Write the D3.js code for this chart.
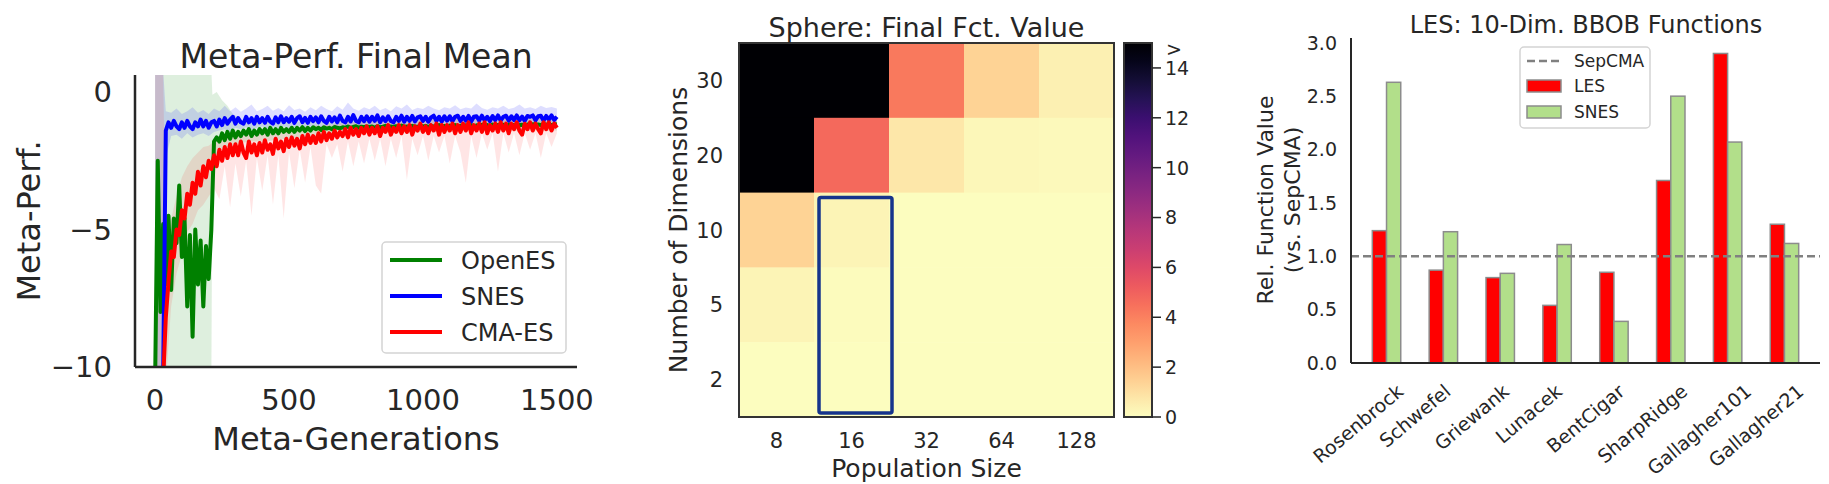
<!DOCTYPE html>
<html>
<head>
<meta charset="utf-8">
<script src="https://cdn.jsdelivr.net/npm/d3@7"></script>
<style>
  body { margin: 0; background: #fff; }
  text { font-family: "DejaVu Sans", sans-serif; fill: #262626; }
</style>
</head>
<body>
<svg id="fig" width="1829" height="484"></svg>
<script>
// ---------------- data: meta-performance curves (one value every 10 meta-generations) ----------------
var genStep = 10;
var openesMean = [
  -10.6, -2.5, -8.0, -4.8, -7.0, -4.5, -7.2, -4.6, -5.5, -3.4,
  -6.0, -4.6, -7.8, -5.2, -8.9, -5.0, -7.0, -5.4, -7.8, -5.6,
  -6.8, -5.0, -1.8, -1.65, -1.8, -1.5, -1.75, -1.45, -1.7, -1.4,
  -1.65, -1.45, -1.6, -1.4, -1.55, -1.35, -1.6, -1.4, -1.55, -1.35,
  -1.5, -1.35, -1.55, -1.3, -1.5, -1.35, -1.5, -1.3, -1.45, -1.35,
  -1.45, -1.3, -1.45, -1.3, -1.4, -1.28, -1.42, -1.3, -1.4, -1.28,
  -1.35, -1.3, -1.38, -1.28, -1.33, -1.3, -1.35, -1.27, -1.3, -1.32,
  -1.28, -1.3, -1.25, -1.3, -1.27, -1.24, -1.3, -1.26, -1.28, -1.25,
  -1.27, -1.25, -1.3, -1.24, -1.28, -1.26, -1.23, -1.28, -1.25, -1.27,
  -1.24, -1.27, -1.22, -1.26, -1.25, -1.28, -1.23, -1.25, -1.27, -1.22,
  -1.25, -1.23, -1.27, -1.22, -1.26, -1.24, -1.2, -1.25, -1.23, -1.26,
  -1.22, -1.25, -1.2, -1.24, -1.22, -1.26, -1.21, -1.23, -1.2, -1.24,
  -1.21, -1.23, -1.19, -1.22, -1.2, -1.24, -1.18, -1.22, -1.2, -1.21,
  -1.19, -1.22, -1.18, -1.21, -1.2, -1.17, -1.21, -1.19, -1.22, -1.18,
  -1.2, -1.17, -1.21, -1.18, -1.2, -1.16, -1.19, -1.18, -1.2, -1.17,
  -1.18
];
var snesMean = [
  -10.6, -10.6, -10.6, -10.4, -1.4, -1.1, -1.3, -1.05, -1.25, -1.35,
  -1.1, -1.3, -1.05, -1.25, -1.35, -1.1, -1.25, -1.0, -1.25, -1.05,
  -1.3, -1.1, -1.05, -1.25, -1.0, -1.2, -0.95, -1.15, -1.0, -0.9,
  -1.15, -0.95, -1.1, -1.15, -0.9, -1.1, -0.95, -1.15, -0.9, -1.1,
  -0.95, -1.12, -0.9, -1.08, -1.15, -0.92, -1.1, -0.88, -1.1, -0.95,
  -1.08, -0.9, -1.12, -0.95, -0.88, -1.1, -0.94, -1.12, -0.9, -1.06,
  -0.92, -1.1, -0.88, -1.05, -1.12, -0.9, -1.07, -0.92, -1.1, -0.86,
  -1.05, -1.1, -0.9, -1.07, -0.84, -1.05, -1.1, -0.9, -1.06, -0.88,
  -1.08, -0.9, -1.05, -0.85, -1.1, -0.92, -1.06, -0.88, -1.05, -1.1,
  -0.9, -1.05, -0.86, -1.08, -0.9, -1.05, -0.87, -1.07, -0.92, -0.88,
  -1.05, -0.9, -1.08, -0.92, -0.86, -1.05, -0.9, -1.07, -0.88, -1.04,
  -0.88, -1.06, -0.9, -0.86, -1.05, -0.9, -1.04, -0.87, -1.07, -0.9,
  -0.88, -1.04, -0.86, -1.03, -0.9, -1.06, -0.87, -1.02, -0.85, -1.04,
  -0.9, -0.86, -1.04, -0.88, -1.02, -0.85, -1.03, -0.89, -1.05, -0.87,
  -0.9, -0.85, -1.03, -0.88, -0.86, -1.04, -0.87, -1.0, -0.85, -1.02,
  -0.9
];
var cmaesMean = [
  -10.6, -10.6, -10.6, -10.5, -8.2, -6.9, -5.8, -6.0, -5.0, -5.2,
  -4.3, -4.6, -3.7, -4.1, -3.3, -3.7, -2.9, -3.4, -2.7, -3.1,
  -2.5, -2.8, -2.3, -2.7, -2.1, -2.5, -2.0, -2.4, -1.9, -2.3,
  -1.9, -2.3, -1.8, -2.2, -2.4, -1.8, -2.2, -1.9, -2.3, -1.85,
  -2.2, -1.75, -2.1, -1.9, -2.25, -1.7, -2.05, -1.8, -2.15, -1.7,
  -2.0, -1.65, -1.95, -1.7, -2.05, -1.6, -1.9, -1.55, -1.85, -1.6,
  -1.85, -1.5, -1.8, -1.45, -1.75, -1.5, -1.7, -1.4, -1.65, -1.45,
  -1.6, -1.35, -1.65, -1.3, -1.55, -1.35, -1.6, -1.3, -1.5, -1.25,
  -1.55, -1.3, -1.5, -1.25, -1.6, -1.3, -1.45, -1.2, -1.55, -1.3,
  -1.45, -1.2, -1.5, -1.25, -1.45, -1.2, -1.55, -1.25, -1.4, -1.15,
  -1.45, -1.25, -1.5, -1.2, -1.4, -1.15, -1.55, -1.2, -1.45, -1.2,
  -1.4, -1.15, -1.5, -1.2, -1.45, -1.15, -1.4, -1.1, -1.5, -1.2,
  -1.4, -1.15, -1.45, -1.1, -1.5, -1.2, -1.4, -1.15, -1.45, -1.1,
  -1.4, -1.15, -1.5, -1.15, -1.35, -1.1, -1.4, -1.55, -1.15, -1.35,
  -1.1, -1.4, -1.15, -1.35, -1.5, -1.1, -1.35, -1.1, -1.4, -1.15,
  -1.3
];

// shaded spread around the curves
var greenBandGens = [0, 210, 214, 230, 250, 270, 290, 320, 360, 400, 500, 600, 700, 800, 900, 1000, 1100, 1200, 1300, 1400, 1500];
var openesLo = [-10.6, -10.6, -2.6, -2.3, -2.1, -2.0, -1.9, -1.85, -1.8, -1.8, -1.7, -1.6, -1.55, -1.5, -1.5, -1.45, -1.45, -1.4, -1.4, -1.4, -1.4];
var openesHi = [0.8, 0.8, -0.1, 0.0, -0.3, -0.5, -0.8, -1.0, -1.1, -1.1, -1.1, -1.05, -1.0, -1.0, -1.0, -0.95, -0.95, -0.95, -0.9, -0.9, -0.9];

var bandGens = [0, 20, 30].concat(d3.range(40, 1501, 20));
var snesLo = [
  -10.6, -10.6, -10.6, -2.4,
  -1.6, -1.55, -1.7, -1.5, -1.65, -1.55, -1.5, -1.6, -1.45, -1.4,
  -1.35, -1.45, -1.3, -1.35, -1.28, -1.38, -1.3, -1.25, -1.33, -1.28,
  -1.3, -1.25, -1.32, -1.27, -1.24, -1.3, -1.26, -1.22, -1.28, -1.25,
  -1.22, -1.27, -1.2, -1.25, -1.22, -1.18, -1.24, -1.2, -1.23, -1.19,
  -1.2, -1.17, -1.22, -1.18, -1.2, -1.16, -1.21, -1.18, -1.15, -1.2,
  -1.17, -1.14, -1.19, -1.16, -1.13, -1.18, -1.15, -1.12, -1.17, -1.14,
  -1.13, -1.16, -1.12, -1.15, -1.11, -1.14, -1.12, -1.1, -1.13, -1.11,
  -1.12, -1.1, -1.11
];
var snesHi = [
  0.8, 0.8, 0.8, -0.7,
  -0.75, -0.6, -0.8, -0.7, -0.55, -0.75, -0.65, -0.8, -0.6, -0.7,
  -0.5, -0.7, -0.55, -0.72, -0.6, -0.45, -0.7, -0.62, -0.5, -0.68,
  -0.58, -0.7, -0.48, -0.65, -0.6, -0.72, -0.55, -0.66, -0.5, -0.62,
  -0.7, -0.52, -0.64, -0.38, -0.6, -0.68, -0.55, -0.63, -0.5, -0.66,
  -0.58, -0.7, -0.52, -0.6, -0.45, -0.65, -0.57, -0.62, -0.5, -0.6,
  -0.66, -0.55, -0.6, -0.48, -0.63, -0.56, -0.6, -0.42, -0.58, -0.64,
  -0.55, -0.6, -0.5, -0.62, -0.57, -0.45, -0.6, -0.55, -0.62, -0.5,
  -0.58, -0.54, -0.6
];
var cmaesLo = [
  -10.6, -10.6, -10.6, -10.6,
  -7.8, -6.6, -5.9, -5.1, -4.8, -4.3, -4.1, -3.8, -3.5, -3.9,
  -2.7, -4.2, -2.6, -3.8, -2.5, -4.5, -2.4, -3.6, -2.3, -4.1,
  -2.3, -4.6, -2.2, -3.5, -2.1, -3.3, -2.0, -3.4, -3.7, -1.9,
  -2.4, -1.9, -2.9, -1.8, -2.7, -1.8, -2.6, -1.7, -2.5, -1.7,
  -2.7, -1.7, -2.4, -1.6, -3.2, -1.7, -2.3, -1.6, -2.5, -1.6,
  -2.2, -1.6, -2.6, -1.6, -2.2, -3.3, -1.6, -2.4, -1.5, -2.1,
  -1.5, -2.9, -1.5, -2.2, -1.5, -2.3, -1.5, -2.1, -1.5, -2.4,
  -1.5, -2.0, -1.5
];
var cmaesHi = [
  0.8, 0.8, 0.8, -5.5,
  -4.6, -3.8, -3.1, -2.7, -2.4, -2.2, -2.0, -1.95, -1.8, -1.75,
  -1.7, -1.6, -1.65, -1.55, -1.6, -1.5, -1.55, -1.45, -1.5, -1.4,
  -1.45, -1.35, -1.4, -1.3, -1.35, -1.25, -1.3, -1.2, -1.25, -1.15,
  -1.2, -1.1, -1.15, -1.05, -1.1, -1.0, -1.05, -1.0, -1.02, -0.98,
  -1.0, -0.97, -1.0, -0.95, -0.98, -0.96, -1.0, -0.95, -0.97, -0.94,
  -0.96, -0.93, -0.97, -0.95, -0.92, -0.96, -0.94, -0.91, -0.95, -0.93,
  -0.92, -0.95, -0.9, -0.94, -0.92, -0.9, -0.93, -0.91, -0.89, -0.92,
  -0.9, -0.92, -0.88
];
var genTicks = [0, 500, 1000, 1500];
var perfTicks = [0, -5, -10];

// ---------------- data: sphere heatmap ----------------
var popSizes = ["8", "16", "32", "64", "128"];
var numDims = ["30", "20", "10", "5", "2"];
var sphereFinal = [
  [25.0, 25.0, 4.2, 1.4, 0.45],
  [25.0, 4.7, 0.75, 0.2, 0.12],
  [1.4, 0.35, 0.05, 0.04, 0.03],
  [0.3, 0.08, 0.03, 0.02, 0.02],
  [0.05, 0.03, 0.02, 0.01, 0.01]
];
var cbarTicks = [0, 2, 4, 6, 8, 10, 12, 14];

// ---------------- data: BBOB bars ----------------
var bbobFns = ["Rosenbrock", "Schwefel", "Griewank", "Lunacek", "BentCigar", "SharpRidge", "Gallagher101", "Gallagher21"];
var lesRel = [1.24, 0.87, 0.80, 0.54, 0.85, 1.71, 2.90, 1.30];
var snesRel = [2.63, 1.23, 0.84, 1.11, 0.39, 2.50, 2.07, 1.12];
var sepcmaRel = 1.0;
var relTicks = [0.0, 0.5, 1.0, 1.5, 2.0, 2.5, 3.0];

var svg = d3.select("#fig");
var ink = "#262626";

// =============== panel 1: meta-performance ===============
var xGen = d3.scaleLinear().domain([-75, 1575]).range([135, 577]);
var yPerf = d3.scaleLinear().domain([-10, 0.62]).range([367, 75]);

svg.append("clipPath").attr("id", "clip1").append("rect")
    .attr("x", 135).attr("y", 75).attr("width", 442).attr("height", 292);
var p1 = svg.append("g").attr("clip-path", "url(#clip1)");

var bands = [
    { gens: greenBandGens, lo: openesLo, hi: openesHi, color: "#008000", op: 0.13 },
    { gens: bandGens, lo: snesLo, hi: snesHi, color: "#0000ff", op: 0.13 },
    { gens: bandGens, lo: cmaesLo, hi: cmaesHi, color: "#ff0000", op: 0.1 }
];
bands.forEach(function(b) {
    var area = d3.area()
        .x(function(d, i) { return xGen(b.gens[i]); })
        .y0(function(d, i) { return yPerf(b.lo[i]); })
        .y1(function(d, i) { return yPerf(b.hi[i]); });
    p1.append("path").datum(b.lo)
        .attr("d", area)
        .attr("fill", b.color)
        .attr("fill-opacity", b.op);
});

var series = [
    { name: "OpenES", values: openesMean, color: "#008000" },
    { name: "SNES", values: snesMean, color: "#0000ff" },
    { name: "CMA-ES", values: cmaesMean, color: "#ff0000" }
];
var perfLine = d3.line()
    .x(function(d, i) { return xGen(i * genStep); })
    .y(function(d) { return yPerf(d); });
series.forEach(function(s) {
    p1.append("path").datum(s.values)
        .attr("d", perfLine)
        .attr("fill", "none")
        .attr("stroke", s.color)
        .attr("stroke-width", 4)
        .attr("stroke-linejoin", "round");
});

// spines
svg.append("line").attr("x1", 135).attr("x2", 135).attr("y1", 75).attr("y2", 367)
    .attr("stroke", ink).attr("stroke-width", 2.5);
svg.append("line").attr("x1", 135).attr("x2", 577).attr("y1", 367).attr("y2", 367)
    .attr("stroke", ink).attr("stroke-width", 2.5);

svg.selectAll(".gtick").data(genTicks).enter().append("text")
    .attr("x", function(d) { return xGen(d); })
    .attr("y", 410)
    .attr("text-anchor", "middle")
    .style("font-size", "29px")
    .text(function(d) { return d; });
svg.selectAll(".ptick").data(perfTicks).enter().append("text")
    .attr("x", 112)
    .attr("y", function(d) { return yPerf(d); })
    .attr("dy", "0.36em")
    .attr("text-anchor", "end")
    .style("font-size", "29px")
    .text(function(d) { return d < 0 ? "\u2212" + Math.abs(d) : d; });

svg.append("text").attr("x", 356).attr("y", 68).attr("text-anchor", "middle")
    .style("font-size", "33px").text("Meta-Perf. Final Mean");
svg.append("text").attr("x", 356).attr("y", 450).attr("text-anchor", "middle")
    .style("font-size", "32px").text("Meta-Generations");
svg.append("text").attr("transform", "translate(28,221) rotate(-90)")
    .attr("dy", "0.36em").attr("text-anchor", "middle")
    .style("font-size", "32px").text("Meta-Perf.");

// legend
var leg1 = svg.append("g");
leg1.append("rect").attr("x", 382).attr("y", 242).attr("width", 184).attr("height", 111)
    .attr("rx", 4).attr("fill", "#fff").attr("fill-opacity", 0.85)
    .attr("stroke", "#d4d4d4").attr("stroke-width", 1.5);
series.forEach(function(s, i) {
    var ly = 260 + i * 36;
    leg1.append("line").attr("x1", 390).attr("x2", 442).attr("y1", ly).attr("y2", ly)
        .attr("stroke", s.color).attr("stroke-width", 4);
    leg1.append("text").attr("x", 461).attr("y", ly).attr("dy", "0.36em")
        .style("font-size", "24px").text(s.name);
});

// =============== panel 2: heatmap ===============
var xPop = d3.scaleBand().domain(popSizes).range([739, 1114]);
var yDim = d3.scaleBand().domain(numDims).range([43, 417]);
var vmax = 15;
function magmaR(v) { return d3.interpolateMagma(1 - Math.min(v, vmax) / vmax); }

var cells = [];
sphereFinal.forEach(function(row, r) {
    row.forEach(function(v, c) { cells.push({ dim: numDims[r], pop: popSizes[c], v: v }); });
});
svg.selectAll(".cell").data(cells).enter().append("rect")
    .attr("x", function(d) { return xPop(d.pop); })
    .attr("y", function(d) { return yDim(d.dim); })
    .attr("width", xPop.bandwidth() + 0.5)
    .attr("height", yDim.bandwidth() + 0.5)
    .attr("fill", function(d) { return magmaR(d.v); });
svg.append("rect").attr("x", 739).attr("y", 43).attr("width", 375).attr("height", 374)
    .attr("fill", "none").attr("stroke", "#333").attr("stroke-width", 2);

// highlighted column (pop 16, dims 2-10)
svg.append("rect")
    .attr("x", xPop("16") + 5)
    .attr("y", yDim("10") + 5)
    .attr("width", xPop.bandwidth() - 2)
    .attr("height", yDim("2") + yDim.bandwidth() - 4 - (yDim("10") + 5))
    .attr("rx", 2)
    .attr("fill", "none").attr("stroke", "#16348c").attr("stroke-width", 3.5);

svg.selectAll(".ptk").data(popSizes).enter().append("text")
    .attr("x", function(d) { return xPop(d) + xPop.bandwidth() / 2; })
    .attr("y", 448)
    .attr("text-anchor", "middle")
    .style("font-size", "21px")
    .text(function(d) { return d; });
svg.selectAll(".dtk").data(numDims).enter().append("text")
    .attr("x", 723)
    .attr("y", function(d) { return yDim(d) + yDim.bandwidth() / 2; })
    .attr("dy", "0.36em")
    .attr("text-anchor", "end")
    .style("font-size", "21px")
    .text(function(d) { return d; });

svg.append("text").attr("x", 926.5).attr("y", 37).attr("text-anchor", "middle")
    .style("font-size", "27px").text("Sphere: Final Fct. Value");
svg.append("text").attr("x", 926.5).attr("y", 477).attr("text-anchor", "middle")
    .style("font-size", "25px").text("Population Size");
svg.append("text").attr("transform", "translate(678,230) rotate(-90)")
    .attr("dy", "0.36em").attr("text-anchor", "middle")
    .style("font-size", "25px").text("Number of Dimensions");

// colorbar
var cbY = d3.scaleLinear().domain([0, vmax]).range([417, 43]);
var grad = svg.append("defs").append("linearGradient").attr("id", "magmaR")
    .attr("x1", 0).attr("y1", 1).attr("x2", 0).attr("y2", 0);
d3.range(0, 21).forEach(function(k) {
    grad.append("stop").attr("offset", (k / 20)).attr("stop-color", magmaR(k / 20 * vmax));
});
svg.append("rect").attr("x", 1124).attr("y", cbY(vmax)).attr("width", 28)
    .attr("height", cbY(0) - cbY(vmax)).attr("fill", "url(#magmaR)")
    .attr("stroke", "#333").attr("stroke-width", 2);
svg.selectAll(".cbt").data(cbarTicks).enter().append("line")
    .attr("x1", 1152).attr("x2", 1161)
    .attr("y1", function(d) { return cbY(d); }).attr("y2", function(d) { return cbY(d); })
    .attr("stroke", ink).attr("stroke-width", 1.5);
svg.selectAll(".cbl").data(cbarTicks).enter().append("text")
    .attr("x", 1165)
    .attr("y", function(d) { return cbY(d); })
    .attr("dy", "0.36em")
    .style("font-size", "19px")
    .text(function(d) { return d; });
svg.append("text").attr("x", 1166).attr("y", cbY(vmax) + 6).attr("dy", "0.36em")
    .style("font-size", "19px").text(">");

// =============== panel 3: BBOB bars ===============
var xFn = d3.scaleLinear().domain([-0.625, 7.625]).range([1351, 1820]);
var yRel = d3.scaleLinear().domain([0, 3.045]).range([363, 38]);
var barW = xFn(0.25) - xFn(0);

svg.selectAll(".les").data(lesRel).enter().append("rect")
    .attr("x", function(d, i) { return xFn(i - 0.25); })
    .attr("y", function(d) { return yRel(d); })
    .attr("width", barW)
    .attr("height", function(d) { return yRel(0) - yRel(d); })
    .attr("fill", "#ff0000").attr("stroke", "#8c8c8c").attr("stroke-width", 1.5);
svg.selectAll(".snes").data(snesRel).enter().append("rect")
    .attr("x", function(d, i) { return xFn(i); })
    .attr("y", function(d) { return yRel(d); })
    .attr("width", barW)
    .attr("height", function(d) { return yRel(0) - yRel(d); })
    .attr("fill", "#b2df8a").attr("stroke", "#8c8c8c").attr("stroke-width", 1.5);

svg.append("line").attr("x1", 1351).attr("x2", 1820)
    .attr("y1", yRel(sepcmaRel)).attr("y2", yRel(sepcmaRel))
    .attr("stroke", "#808080").attr("stroke-width", 2.5).attr("stroke-dasharray", "8,4");

svg.append("line").attr("x1", 1351).attr("x2", 1351).attr("y1", 38).attr("y2", 363)
    .attr("stroke", ink).attr("stroke-width", 2);
svg.append("line").attr("x1", 1351).attr("x2", 1820).attr("y1", 363).attr("y2", 363)
    .attr("stroke", ink).attr("stroke-width", 2);

svg.selectAll(".rtk").data(relTicks).enter().append("text")
    .attr("x", 1337)
    .attr("y", function(d) { return yRel(d); })
    .attr("dy", "0.36em")
    .attr("text-anchor", "end")
    .style("font-size", "19px")
    .text(function(d) { return d.toFixed(1); });

// rotated category labels, rotated box centred half a slot left of each group
var rot = 40, rad = rot * Math.PI / 180, fh = 19;
bbobFns.forEach(function(name, i) {
    var t = svg.append("text").style("font-size", "19px").text(name);
    var L = t.node().getComputedTextLength();
    var H = L * Math.sin(rad) + fh * Math.cos(rad);
    var cx = xFn(i - 0.5), cy = 381 + H / 2;
    t.attr("x", cx).attr("y", cy).attr("dy", "0.36em")
        .attr("text-anchor", "middle")
        .attr("transform", "rotate(" + (-rot) + "," + cx + "," + cy + ")");
});

svg.append("text").attr("x", 1586).attr("y", 33).attr("text-anchor", "middle")
    .style("font-size", "24px").text("LES: 10-Dim. BBOB Functions");
svg.append("text").attr("transform", "translate(1265,200) rotate(-90)")
    .attr("dy", "0.36em").attr("text-anchor", "middle")
    .style("font-size", "22px").text("Rel. Function Value");
svg.append("text").attr("transform", "translate(1292,200) rotate(-90)")
    .attr("dy", "0.36em").attr("text-anchor", "middle")
    .style("font-size", "22px").text("(vs. SepCMA)");

var leg3 = svg.append("g");
leg3.append("rect").attr("x", 1520).attr("y", 47).attr("width", 130).attr("height", 81)
    .attr("rx", 4).attr("fill", "#fff").attr("stroke", "#d4d4d4").attr("stroke-width", 1.5);
leg3.append("line").attr("x1", 1527).attr("x2", 1561).attr("y1", 61).attr("y2", 61)
    .attr("stroke", "#808080").attr("stroke-width", 2.5).attr("stroke-dasharray", "8,4");
leg3.append("rect").attr("x", 1527).attr("y", 80).attr("width", 34).attr("height", 12)
    .attr("fill", "#ff0000").attr("stroke", "#8c8c8c").attr("stroke-width", 1.5);
leg3.append("rect").attr("x", 1527).attr("y", 106).attr("width", 34).attr("height", 12)
    .attr("fill", "#b2df8a").attr("stroke", "#8c8c8c").attr("stroke-width", 1.5);
[["SepCMA", 61], ["LES", 86], ["SNES", 112]].forEach(function(e) {
    leg3.append("text").attr("x", 1574).attr("y", e[1]).attr("dy", "0.36em")
        .style("font-size", "17px").text(e[0]);
});
</script>
</body>
</html>
